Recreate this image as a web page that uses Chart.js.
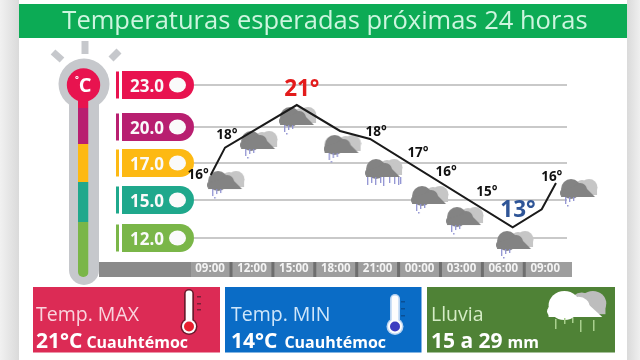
<!DOCTYPE html>
<html lang="es">
<head>
    <meta charset="UTF-8">
    <title>Temperaturas esperadas</title>
    <style>
        html, body { margin: 0; background: #fff; }
        canvas { display: block; filter: blur(0.4px); }
    </style>
</head>
<body>
    <canvas id="myChart" width="640" height="360"></canvas>
    <script src="https://cdn.jsdelivr.net/npm/chart.js"></script>
    <script>
    const titleText = 'Temperaturas esperadas próximas 24 horas';

    // time axis, hours counted from the first 09:00
    const timeLabels = ['09:00', '12:00', '15:00', '18:00', '21:00', '00:00', '03:00', '06:00', '09:00'];
    const timeHours = [0, 3, 6, 9, 12, 15, 18, 21, 24];

    // temperature plates
    const plateValues = [23, 20, 17, 15, 12];
    const plateLabels = ['23.0', '20.0', '17.0', '15.0', '12.0'];
    const plateColors = ['#e8134f', '#b81f70', '#fdb913', '#1fa88c', '#7ab648'];

    // the line
    const lineHours = [0.05, 1.07, 6.21, 9.31, 11.46, 21.67, 23.75, 24.77];
    const lineTemps = [16.35, 18.28, 21.57, 19.67, 19.0, 12.84, 14.27, 15.92];

    // printed temperatures and where they sit
    const labelTemps = [16, 18, 21, 18, 17, 16, 15, 13, 16];
    const labelHours = [-0.86, 1.2, 6.57, 11.89, 14.89, 16.9, 19.83, 22.05, 24.47];
    const labelLevels = [16.35, 19.28, 22.64, 19.61, 17.83, 16.48, 15.45, 14.16, 16.21];

    // weather icons
    const cloudHours = [1.15, 3.51, 6.3, 9.49, 12.46, 15.75, 18.26, 21.84, 26.42];
    const cloudLevels = [15.81, 18.5, 20.43, 18.17, 16.46, 15, 13.34, 11.45, 15.38];
    const cloudRain = [1, 1, 1, 1, 2, 1, 1, 1, 1];

    const FONT = '"Open Sans", "Noto Sans", sans-serif';

    // the plates are not evenly spaced against their values, so the y axis is piecewise
    class PlateScale extends Chart.LinearScale {
        static id = 'plate';
        static defaults = Chart.LinearScale.defaults;
        getPixelForValue(v) {
            const knots = this.options.knots;
            let i = 0;
            while (i < plateValues.length - 2 && v < plateValues[i + 1]) i++;
            const t = (plateValues[i] - v) / (plateValues[i] - plateValues[i + 1]);
            return this.top + knots[i] + t * (knots[i + 1] - knots[i]);
        }
    }
    Chart.register(PlateScale);

    function bumps(g, list, color) {
        g.fillStyle = color;
        list.forEach(b => {
            g.beginPath();
            g.arc(b[0], b[1], b[2], 0, Math.PI * 2);
            g.fill();
        });
    }

    function cloudShape(g, back, front) {
        bumps(g, [[29, 8.5, 8.5], [22, 8, 7]], back);
        g.fillStyle = back;
        g.fillRect(20, 8, 17, 8);
        bumps(g, [[11, 10, 10], [20, 11, 7], [4, 14, 4]], front);
        g.fillStyle = front;
        g.beginPath();
        g.moveTo(1, 12);
        g.lineTo(22, 5);
        g.lineTo(35, 18);
        g.lineTo(1, 18);
        g.closePath();
        g.fill();
    }

    function makeCloud(rain) {
        const c = document.createElement('canvas');
        c.width = 38;
        c.height = 28;
        const g = c.getContext('2d');
        cloudShape(g, '#c6c6c6', '#838383');
        g.fillStyle = '#8f92d2';
        const drops = rain === 2
            ? [[2, 8], [6, 6], [10, 8], [15, 6], [18, 9], [24, 6], [29, 7], [33, 8], [35, 7]]
            : [[5, 7], [9, 5], [13, 4]];
        drops.forEach(d => g.fillRect(d[0], 18, 1.3, d[1]));
        if (rain === 1) g.fillRect(7, 26, 1.5, 1.5);
        return c;
    }

    const lightCloud = makeCloud(1);
    const heavyCloud = makeCloud(2);

    function roundRect(ctx, x, y, w, h, r, color) {
        ctx.fillStyle = color;
        ctx.beginPath();
        ctx.roundRect(x, y, w, h, r);
        ctx.fill();
    }

    function drawPage(ctx) {
        // side strips
        let grad = ctx.createLinearGradient(0, 0, 19, 0);
        grad.addColorStop(0, '#f1f1f1');
        grad.addColorStop(1, '#dadada');
        ctx.fillStyle = grad;
        ctx.fillRect(0, 0, 19, 360);
        grad = ctx.createLinearGradient(627, 0, 640, 0);
        grad.addColorStop(0, '#dadada');
        grad.addColorStop(1, '#efefef');
        ctx.fillStyle = grad;
        ctx.fillRect(627, 0, 13, 360);

        // title band
        ctx.fillStyle = '#0cab55';
        ctx.fillRect(19, 4, 608, 34);
        ctx.fillStyle = '#cdf5df';
        ctx.font = '25.5px ' + FONT;
        ctx.textAlign = 'center';
        ctx.textBaseline = 'alphabetic';
        ctx.fillText(titleText, 325, 29);
    }

    function drawThermometer(ctx) {
        const gray = '#c6c8cc';
        // rays
        ctx.strokeStyle = gray;
        ctx.lineWidth = 7;
        [[53, 52, 62, 60], [85, 41, 85, 54], [119, 51, 111, 59]].forEach(r => {
            ctx.beginPath();
            ctx.moveTo(r[0], r[1]);
            ctx.lineTo(r[2], r[3]);
            ctx.stroke();
        });
        // body
        bumps(ctx, [[84, 84, 25.5]], gray);
        roundRect(ctx, 69, 90, 30, 195, 15, gray);
        // colored column
        const bands = [[96, 108], [108, 144], [144, 182], [182, 222], [222, 277]];
        ctx.save();
        ctx.beginPath();
        ctx.roundRect(78, 90, 10.5, 187, 5);
        ctx.clip();
        bands.forEach((b, i) => {
            ctx.fillStyle = plateColors[i];
            ctx.fillRect(78, b[0], 10.5, b[1] - b[0]);
        });
        ctx.restore();
        bumps(ctx, [[83.5, 85, 16.7]], plateColors[0]);
        ctx.fillStyle = '#fff';
        ctx.font = 'bold 20px ' + FONT;
        ctx.textAlign = 'center';
        ctx.textBaseline = 'middle';
        ctx.fillText('C', 85, 86);
        ctx.font = 'bold 9px ' + FONT;
        ctx.fillText('°', 77, 79);
    }

    function drawPlates(ctx, scale) {
        plateValues.forEach((v, i) => {
            const y = scale.getPixelForValue(v);
            const color = plateColors[i];
            ctx.fillStyle = color;
            ctx.fillRect(116, y - 13.5, 3, 27);
            ctx.beginPath();
            ctx.moveTo(122, y - 14);
            ctx.lineTo(178, y - 14);
            ctx.arc(180, y, 14, -Math.PI / 2, Math.PI / 2);
            ctx.lineTo(122, y + 14);
            ctx.closePath();
            ctx.fill();
            ctx.fillStyle = '#fafafa';
            ctx.beginPath();
            ctx.ellipse(177.5, y, 8.5, 7.5, 0, 0, Math.PI * 2);
            ctx.fill();
            ctx.font = 'bold 17px ' + FONT;
            ctx.textAlign = 'center';
            ctx.textBaseline = 'middle';
            ctx.fillText(plateLabels[i], 147, y + 2);
        });
    }

    function drawTimeBar(ctx, scale) {
        ctx.fillStyle = '#8a8a8a';
        ctx.fillRect(99, 262, 473, 15);
        ctx.fillStyle = '#9e9e9e';
        ctx.fillRect(191, 262, 381, 15);
        ctx.fillStyle = '#6e6e6e';
        timeHours.slice(1).forEach((h, i) => {
            const x = (scale.getPixelForValue(h) + scale.getPixelForValue(timeHours[i])) / 2;
            ctx.fillRect(x - 1.5, 262, 3, 15);
        });
    }

    function panelText(ctx, x, head, headColor, big, small, gap) {
        ctx.textAlign = 'left';
        ctx.textBaseline = 'alphabetic';
        ctx.fillStyle = headColor;
        ctx.font = '19.5px ' + FONT;
        ctx.fillText(head, x, 321);
        ctx.fillStyle = '#fff';
        ctx.font = 'bold 21px ' + FONT;
        ctx.fillText(big, x, 348);
        const w = ctx.measureText(big).width;
        ctx.font = 'bold 16px ' + FONT;
        ctx.fillText(small, x + w + gap, 348);
    }

    function drawIconThermo(ctx, x, top, tubeColor, fill, outer) {
        ctx.fillStyle = outer;
        ctx.beginPath();
        ctx.roundRect(x - 5, top, 10, 36, 5);
        ctx.fill();
        ctx.beginPath();
        ctx.arc(x, 326.5, 8.5, 0, Math.PI * 2);
        ctx.fill();
        ctx.fillStyle = tubeColor;
        ctx.beginPath();
        ctx.roundRect(x - 3.3, top + 1.5, 6.6, 34, 3);
        ctx.fill();
        ctx.beginPath();
        ctx.arc(x, 326.5, 7, 0, Math.PI * 2);
        ctx.fill();
        ctx.fillStyle = fill;
        ctx.beginPath();
        ctx.arc(x, 326.5, 5, 0, Math.PI * 2);
        ctx.fill();
    }

    function drawPanels(ctx) {
        ctx.fillStyle = '#dc2b55';
        ctx.fillRect(33, 287, 187, 65.5);
        ctx.fillStyle = '#0a6cc6';
        ctx.fillRect(225, 287, 196.5, 65.5);
        ctx.fillStyle = '#4f8236';
        ctx.fillRect(427, 287, 188, 65.5);

        panelText(ctx, 36, 'Temp. MAX', '#f9d4de', '21°C', 'Cuauhtémoc', 4);
        panelText(ctx, 231, 'Temp. MIN', '#cfe6fa', '14°C', 'Cuauhtémoc', 7);
        panelText(ctx, 431, 'Lluvia', '#d5ecc6', '15 a 29', 'mm', 5);

        drawIconThermo(ctx, 189, 289, '#fdfdfd', '#e8202e', '#6b1a2c');
        ctx.fillStyle = '#7c1f38';
        [296, 303, 309].forEach(y => ctx.fillRect(197, y, 4, 1.5));
        drawIconThermo(ctx, 395, 294, '#fdfdfd', '#3c3cc0', '#b9d4f2');
        ctx.fillStyle = '#0a4f94';
        [301, 308, 315].forEach(y => ctx.fillRect(401, y, 4, 1.5));

        // rain cloud
        ctx.save();
        ctx.translate(547, 291);
        ctx.scale(1.58, 1.45);
        cloudShape(ctx, '#bdbdbd', '#ffffff');
        ctx.restore();
        ctx.fillStyle = '#a9d08e';
        [[555, 319, 10], [564, 318, 6], [572, 318, 5], [580, 320, 12], [593, 320, 11]].forEach(d => {
            ctx.fillRect(d[0], d[1], 1.5, d[2]);
        });
    }

    const decorPlugin = {
        id: 'decor',
        beforeDraw(chart) {
            const ctx = chart.ctx;
            ctx.save();
            drawPage(ctx);
            drawThermometer(ctx);
            drawPlates(ctx, chart.scales.y);
            drawTimeBar(ctx, chart.scales.x);
            drawPanels(ctx);
            ctx.restore();
        }
    };

    const valueLabelPlugin = {
        id: 'valueLabels',
        afterDatasetsDraw(chart) {
            const ctx = chart.ctx;
            const hi = Math.max(...labelTemps);
            const lo = Math.min(...labelTemps);
            ctx.save();
            ctx.textAlign = 'center';
            ctx.textBaseline = 'middle';
            chart.getDatasetMeta(2).data.forEach((pt, i) => {
                const t = labelTemps[i];
                ctx.font = (t === hi || t === lo ? 'bold 22.5px ' : 'bold 13.5px ') + FONT;
                ctx.fillStyle = t === hi ? '#e31b1b' : t === lo ? '#2f5597' : '#111';
                ctx.fillText(t + '°', pt.x, pt.y);
            });
            ctx.restore();
        }
    };

    const toPoints = (xs, ys) => xs.map((x, i) => ({ x: x, y: ys[i] }));

    new Chart(document.getElementById('myChart'), {
        type: 'line',
        data: {
            datasets: [
                {
                    label: 'Temperatura',
                    data: toPoints(lineHours, lineTemps),
                    borderColor: '#1a1a1a',
                    borderWidth: 2,
                    tension: 0,
                    pointRadius: 0,
                    order: 1
                },
                {
                    label: 'Nubes',
                    data: toPoints(cloudHours, cloudLevels),
                    showLine: false,
                    pointRadius: 20,
                    pointStyle: cloudRain.map(r => r === 2 ? heavyCloud : lightCloud),
                    clip: false,
                    order: 2
                },
                {
                    label: 'Etiquetas',
                    data: toPoints(labelHours, labelLevels),
                    showLine: false,
                    pointRadius: 0,
                    order: 3
                }
            ]
        },
        options: {
            responsive: false,
            animation: false,
            layout: { padding: { left: 194, right: 73, top: 70, bottom: 83 } },
            plugins: { legend: { display: false }, title: { display: false }, tooltip: { enabled: false } },
            scales: {
                x: {
                    type: 'linear',
                    min: -1.15,
                    max: 25.56,
                    afterFit(s) { s.height = 15; },
                    afterBuildTicks(s) { s.ticks = timeHours.map(h => ({ value: h })); },
                    grid: { display: false, drawTicks: false },
                    border: { display: false },
                    ticks: {
                        autoSkip: false,
                        maxRotation: 0,
                        padding: 0,
                        color: '#f4f4f4',
                        font: { family: FONT, size: 11.5, weight: 'bold' },
                        callback: (v, i) => timeLabels[i]
                    }
                },
                y: {
                    type: 'plate',
                    knots: [15, 57, 93, 130, 168],
                    min: 11,
                    max: 24,
                    afterFit(s) { s.width = 0; },
                    afterBuildTicks(s) { s.ticks = plateValues.map(v => ({ value: v })); },
                    border: { display: false },
                    grid: { color: '#c9c9c9', lineWidth: 2, drawTicks: false },
                    ticks: { display: false }
                }
            }
        },
        plugins: [decorPlugin, valueLabelPlugin]
    });
    </script>
</body>
</html>
